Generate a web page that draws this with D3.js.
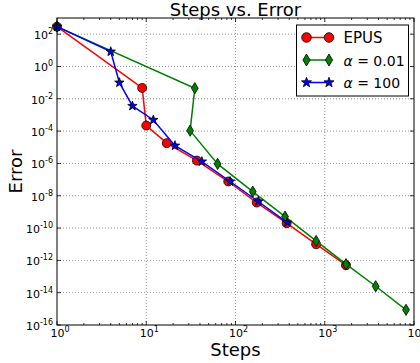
<!DOCTYPE html>
<html>
<head>
<meta charset="utf-8">
<script src="https://cdn.jsdelivr.net/npm/d3@7"></script>
<style>
  body { margin: 0; background: #fff; }
  svg text { font-family: "DejaVu Sans", sans-serif; }
</style>
</head>
<body>
<div id="chart"></div>
<script>
// values
const epusSteps = [1, 9, 10, 17, 37, 83, 173, 374, 800, 1730];
const epusError = [290, 0.047, 2.2e-4, 1.8e-5, 1.5e-6, 7.6e-8, 3.8e-9, 2e-10, 1e-11, 5e-13];

const lowSteps = [1, 35, 31, 63, 156, 359, 800, 1730, 3720, 8140];
const lowError = [290, 0.045, 1.07e-4, 9.3e-7, 1.8e-8, 5.1e-10, 1.6e-11, 5.8e-13, 2.5e-14, 8.7e-16];

const highSteps = [1, 4, 5, 7, 12, 21, 42, 87, 180, 380];
const highError = [290, 8.3, 0.1, 3.6e-3, 4.9e-4, 1.26e-5, 1.3e-6, 7.6e-8, 4.4e-9, 2.2e-10];

const xTickExp = [0, 1, 2, 3, 4];
const yTickExp = [2, 0, -2, -4, -6, -8, -10, -12, -14, -16];

const series = [
  { name: 'EPUS', steps: epusSteps, error: epusError, color: '#ff0000', marker: 'circle' },
  { name: 'a001', steps: lowSteps, error: lowError, color: '#008000', marker: 'diamond' },
  { name: 'a100', steps: highSteps, error: highError, color: '#0000ff', marker: 'star' }
];

const W = 420, H = 363;
const margin = { top: 18, right: 6, bottom: 38, left: 57 };
const width = W - margin.left - margin.right;
const height = H - margin.top - margin.bottom;

const svg = d3.select('#chart').append('svg')
  .attr('width', W)
  .attr('height', H);

const g = svg.append('g')
  .attr('transform', `translate(${margin.left},${margin.top})`);

const x = d3.scaleLog().domain([1, 1e4]).range([0, width]);
const y = d3.scaleLog().domain([1e-16, 1e3]).range([height, 0]);

// grid
g.append('g').selectAll('line')
  .data(xTickExp.slice(1, -1))
  .enter().append('line')
  .attr('x1', (d) => x(Math.pow(10, d))).attr('x2', (d) => x(Math.pow(10, d)))
  .attr('y1', 0).attr('y2', height)
  .attr('stroke', '#000').attr('stroke-width', 0.6)
  .attr('stroke-dasharray', '1,2').attr('opacity', 0.7);

g.append('g').selectAll('line')
  .data(yTickExp.slice(0, -1))
  .enter().append('line')
  .attr('y1', (d) => y(Math.pow(10, d))).attr('y2', (d) => y(Math.pow(10, d)))
  .attr('x1', 0).attr('x2', width)
  .attr('stroke', '#000').attr('stroke-width', 0.6)
  .attr('stroke-dasharray', '1,2').attr('opacity', 0.7);

// ticks (inside, on all sides)
const xMinor = [];
for (let e = 0; e < 4; e++) {
  for (let k = 2; k <= 9; k++) { xMinor.push(k * Math.pow(10, e)); }
}
const ticks = g.append('g').attr('stroke', '#000').attr('stroke-width', 0.8);
xTickExp.forEach((e) => {
  const px = x(Math.pow(10, e));
  ticks.append('line').attr('x1', px).attr('x2', px).attr('y1', height).attr('y2', height - 4);
  ticks.append('line').attr('x1', px).attr('x2', px).attr('y1', 0).attr('y2', 4);
});
xMinor.forEach((v) => {
  const px = x(v);
  ticks.append('line').attr('x1', px).attr('x2', px).attr('y1', height).attr('y2', height - 2);
  ticks.append('line').attr('x1', px).attr('x2', px).attr('y1', 0).attr('y2', 2);
});
yTickExp.forEach((e) => {
  const py = y(Math.pow(10, e));
  ticks.append('line').attr('y1', py).attr('y2', py).attr('x1', 0).attr('x2', 4);
  ticks.append('line').attr('y1', py).attr('y2', py).attr('x1', width).attr('x2', width - 4);
});

// tick labels
function powLabel(sel, e) {
  sel.append('tspan').text('10');
  sel.append('tspan').attr('font-size', 8).attr('dy', -5).text(String(e));
}
xTickExp.forEach((e) => {
  const t = g.append('text')
    .attr('x', x(Math.pow(10, e)) + 3)
    .attr('y', height + 12)
    .attr('text-anchor', 'middle')
    .attr('font-size', 11)
    .attr('fill', '#000');
  powLabel(t, e);
});
yTickExp.forEach((e) => {
  const t = g.append('text')
    .attr('x', -4)
    .attr('y', y(Math.pow(10, e)) + 5)
    .attr('text-anchor', 'end')
    .attr('font-size', 11)
    .attr('fill', '#000');
  powLabel(t, e);
});

// markers
function drawMarker(sel, type, r) {
  if (type === 'circle') {
    return sel.append('circle').attr('r', r);
  }
  if (type === 'diamond') {
    return sel.append('path').attr('d', `M0,${-r * 1.25}L${r * 0.75},0L0,${r * 1.25}L${-r * 0.75},0Z`);
  }
  const pts = [];
  for (let i = 0; i < 10; i++) {
    const rr = i % 2 === 0 ? r * 1.1 : r * 0.45;
    const a = -Math.PI / 2 + i * Math.PI / 5;
    pts.push([rr * Math.cos(a), rr * Math.sin(a)]);
  }
  return sel.append('path').attr('d', 'M' + pts.join('L') + 'Z');
}

const line = d3.line()
  .x((d) => x(d[0]))
  .y((d) => y(d[1]));

const plot = g.append('g');
series.forEach((s) => {
  const pts = s.steps.map((v, i) => [v, s.error[i]]);
  plot.append('path')
    .datum(pts)
    .attr('d', line)
    .attr('fill', 'none')
    .attr('stroke', s.color)
    .attr('stroke-width', 1.5);
  pts.forEach((p) => {
    const m = plot.append('g').attr('transform', `translate(${x(p[0])},${y(p[1])})`);
    drawMarker(m, s.marker, 4.5)
      .attr('fill', s.color)
      .attr('stroke', '#000')
      .attr('stroke-width', 0.8);
  });
});

// frame
g.append('rect')
  .attr('width', width).attr('height', height)
  .attr('fill', 'none').attr('stroke', '#000').attr('stroke-width', 1);

// legend
const lg = g.append('g').attr('transform', `translate(${296.5 - margin.left},${25 - margin.top})`);
lg.append('rect')
  .attr('width', 112).attr('height', 71)
  .attr('fill', '#fff').attr('stroke', '#000').attr('stroke-width', 1);
const legendRows = [
  { s: series[0], label: 'EPUS' },
  { s: series[1], label: ['α', ' = 0.01'] },
  { s: series[2], label: ['α', ' = 100'] }
];
legendRows.forEach((row, i) => {
  const ry = 12.5 + i * 22.5;
  lg.append('line')
    .attr('x1', 10).attr('x2', 32.5).attr('y1', ry).attr('y2', ry)
    .attr('stroke', row.s.color).attr('stroke-width', 1.5);
  [10, 32.5].forEach((mx) => {
    const m = lg.append('g').attr('transform', `translate(${mx},${ry})`);
    drawMarker(m, row.s.marker, 4.8)
      .attr('fill', row.s.color).attr('stroke', '#000').attr('stroke-width', 0.8);
  });
  const t = lg.append('text').attr('x', 47).attr('y', ry + 5.5).attr('fill', '#000');
  if (typeof row.label === 'string') {
    t.attr('font-size', 15).text(row.label);
  } else {
    t.attr('font-family', '"DejaVu Serif", serif').attr('font-size', 14);
    t.append('tspan').attr('font-style', 'italic').text(row.label[0]);
    t.append('tspan').text(row.label[1]);
  }
});

// titles
svg.append('text')
  .attr('x', margin.left + width / 2).attr('y', 16)
  .attr('text-anchor', 'middle').attr('font-size', 18)
  .text('Steps vs. Error');
svg.append('text')
  .attr('x', margin.left + width / 2).attr('y', 356)
  .attr('text-anchor', 'middle').attr('font-size', 18)
  .text('Steps');
svg.append('text')
  .attr('transform', `translate(22,${margin.top + height / 2}) rotate(-90)`)
  .attr('text-anchor', 'middle').attr('font-size', 18)
  .text('Error');
</script>
</body>
</html>
